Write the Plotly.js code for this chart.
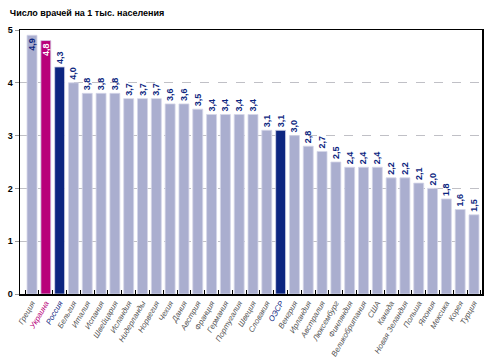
<!DOCTYPE html>
<html>
<head>
<meta charset="utf-8">
<script src="https://cdn.plot.ly/plotly-3.0.1.min.js"></script>
<style>body{margin:0;background:#fff}#c{width:493px;height:360px}</style>
</head>
<body>
<div id="c"></div>
<script>
const countries = ["Греция","Украина","Россия","Бельгия","Италия","Испания","Швейцария","Исландия","Нидерланды","Норвегия","Чехия","Дания","Австрия","Франция","Германия","Португалия","Швеция","Словакия","ОЭСР","Венгрия","Ирландия","Австралия","Люксембург","Финляндия","Великобритания","США","Канада","Новая Зеландия","Польша","Япония","Мексика","Корея","Турция"];
const doctors = [4.9,4.8,4.3,4.0,3.8,3.8,3.8,3.7,3.7,3.7,3.6,3.6,3.5,3.4,3.4,3.4,3.4,3.1,3.1,3.0,2.8,2.7,2.5,2.4,2.4,2.4,2.2,2.2,2.1,2.0,1.8,1.6,1.5];
const yTicks = [0,1,2,3,4,5];

const LIGHT = '#aaaecf', MAG = '#b8007a', NAVY = '#0c2580';
const highlight = {"Украина": MAG, "Россия": NAVY, "ОЭСР": NAVY};
const barColors = countries.map(c => highlight[c] || LIGHT);
const labels = doctors.map(v => v.toFixed(1).replace('.', ','));
const positions = doctors.map(v => v > 4.5 ? 'inside' : 'outside');
const textColors = countries.map(c => c === "Украина" ? '#ffffff' : NAVY);
const tickText = countries.map(c => highlight[c] ? `<span style="color:${highlight[c]}">${c}</span>` : c);

const trace = {
  type: 'bar',
  x: countries,
  y: doctors,
  marker: {color: barColors, line: {color: '#d4d6e8', width: 0.8}},
  text: labels,
  textposition: positions,
  textangle: -90,
  insidetextanchor: 'end',
  textfont: {family: 'Liberation Sans, Arial, sans-serif', size: 9, color: textColors, weight: 'bold'},
  cliponaxis: false,
  hoverinfo: 'none'
};

const layout = {
  width: 493, height: 360,
  margin: {l: 20, r: 11, t: 30, b: 66},
  paper_bgcolor: '#fff', plot_bgcolor: '#fff',
  showlegend: false,
  bargap: 0.28,
  uniformtext: {minsize: 9, mode: 'show'},
  title: {text: 'Число врачей на 1 тыс. населения', x: 0.02, xanchor: 'left', y: 0.965, yanchor: 'middle',
          font: {family: 'Liberation Sans, Arial, sans-serif', size: 9, color: '#000', weight: 'bold'}},
  xaxis: {
    type: 'category',
    range: [-0.87, 32.58],
    tickvals: countries, ticktext: tickText,
    tickangle: -60,
    tickfont: {family: 'Liberation Sans, Arial, sans-serif', size: 7.8, color: '#555', style: 'italic'},
    showline: true, linecolor: '#000', linewidth: 1.5, mirror: true,
    ticks: 'inside', tickson: 'boundaries', ticklen: 4, tickcolor: '#000', tickwidth: 1,
    showgrid: false, fixedrange: true
  },
  yaxis: {
    range: [0, 5],
    tickvals: yTicks, ticktext: yTicks.map(String),
    tickfont: {family: 'Liberation Sans, Arial, sans-serif', size: 9, color: '#000', weight: 'bold'},
    showline: true, linecolor: '#000', linewidth: 1.5, mirror: true,
    ticks: 'outside', ticklen: 4, tickcolor: '#999', tickwidth: 1,
    showgrid: true, gridcolor: '#b0b0b8', griddash: 'dash', gridwidth: 0.8,
    zeroline: false, fixedrange: true
  }
};

Plotly.newPlot('c', [trace], layout, {staticPlot: true});
</script>
</body>
</html>
